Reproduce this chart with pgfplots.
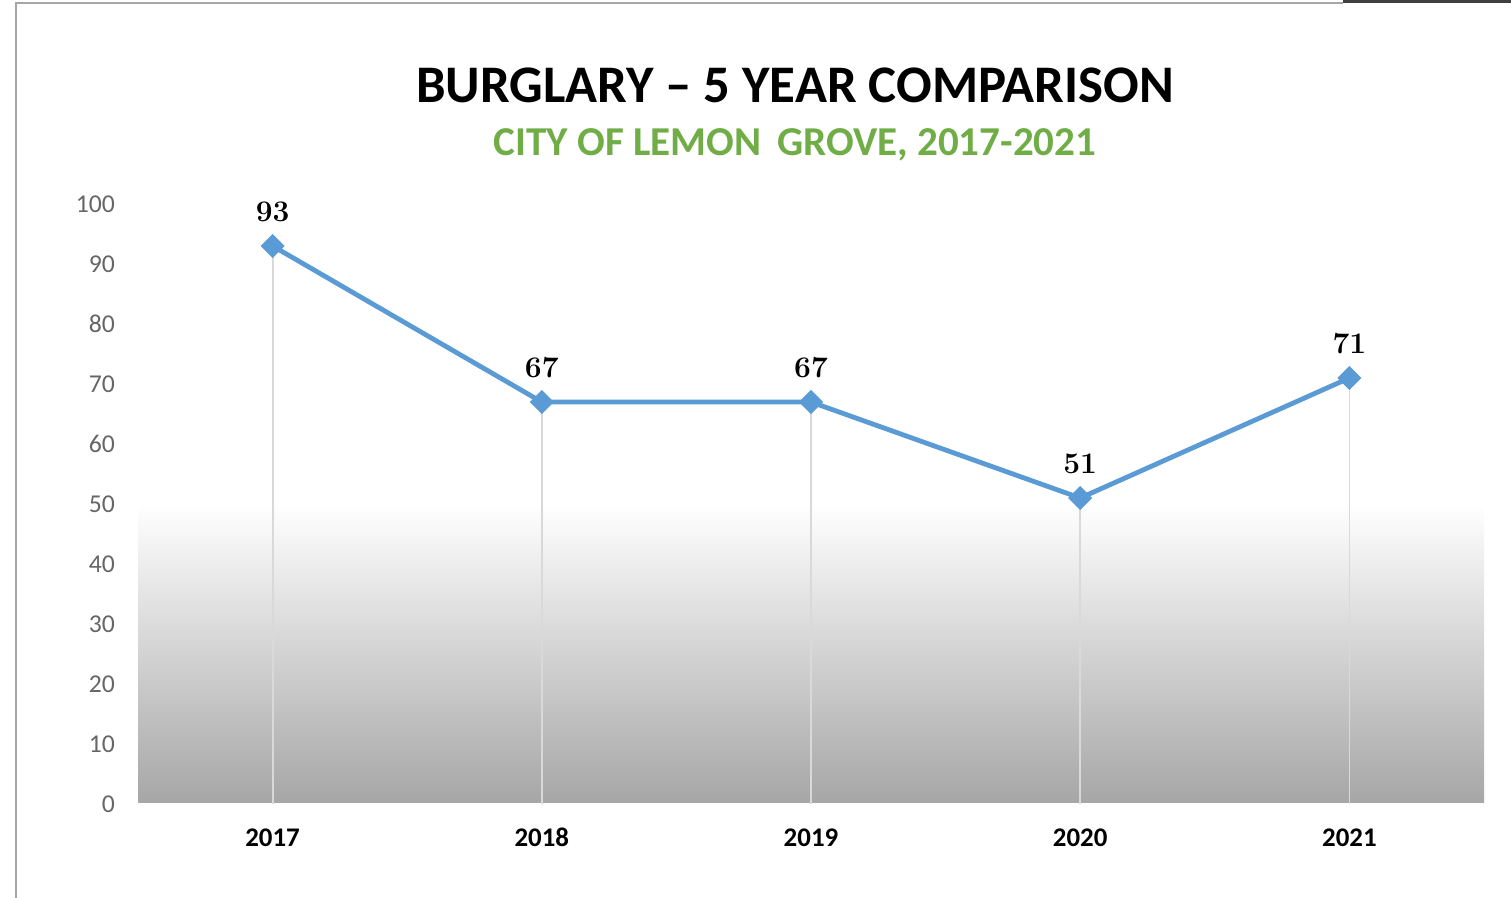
\documentclass[border=0pt]{standalone}
\usepackage{pgfplots}
\pgfplotsset{compat=1.18}
\usepackage{fontspec}
\newfontfamily\carlito[Ligatures=TeX]{Carlito}

\definecolor{lineblue}{HTML}{5B9BD5}
\definecolor{subgreen}{HTML}{70AD47}
\definecolor{ticktext}{HTML}{666666}
\definecolor{floorgray}{HTML}{A6A6A6}
\definecolor{dropgray}{HTML}{D9D9D9}

\begin{document}
\begin{tikzpicture}
% canvas, 1 px of the reference = 0.5bp
\useasboundingbox (-69bp,-47bp) rectangle (686.5bp,402bp);

% frame
\draw[floorgray, line width=1.2bp] (-61bp,-47bp) -- (-61bp,400.5bp) -- (602.5bp,400.5bp);
\draw[black!75, line width=1.2bp] (602.5bp,401.3bp) -- (686.5bp,401.3bp);

\begin{axis}[
  scale only axis,
  width=673bp, height=300bp,
  xmin=-0.5, xmax=4.5,
  ymin=0, ymax=100,
  xtick={0,1,2,3,4},
  xticklabels={2017,2018,2019,2020,2021},
  ytick={0,10,20,30,40,50,60,70,80,90,100},
  axis line style={draw=none},
  major tick length=0pt,
  /pgf/number format/assume math mode=true,
  yticklabel style={font=\carlito\fontsize{12.9}{15}\selectfont, text=ticktext, xshift=-8bp},
  xticklabel style={font=\carlito\bfseries\fontsize{13.5}{16}\selectfont, text=black,
    anchor=base, yshift=-21.5bp},
  clip=false,
]

% gradient floor
\fill[top color=white, bottom color=floorgray, draw=none]
  (axis cs:-0.5,0) rectangle (axis cs:4.5,50);
\draw[white, line width=1bp] (axis cs:-0.5,0) -- (axis cs:4.5,0);

% drop lines
\addplot[ycomb, draw=dropgray, line width=0.9bp, mark=none]
  coordinates {(0,93) (1,67) (2,67) (3,51) (4,71)};

% burglary counts
\addplot[
  color=lineblue, line width=2.4bp,
  mark=square*, mark size=4bp,
  mark options={rotate=45, fill=lineblue, draw=lineblue, line width=0.5bp},
  nodes near coords,
  point meta=explicit symbolic,
  every node near coord/.append style={
    font=\bfseries\fontsize{15}{17}\selectfont, text=black, yshift=8.5bp},
] coordinates {
  (0,93) [93]
  (1,67) [67]
  (2,67) [67]
  (3,51) [51]
  (4,71) [71]
};
\end{axis}

\node[font=\carlito\bfseries\fontsize{26.5}{31}\selectfont] at (328.5bp,359.5bp)
  {BURGLARY – 5 YEAR COMPARISON};
\node[font=\carlito\bfseries\fontsize{20.6}{24}\selectfont, text=subgreen] at (328.5bp,329.5bp)
  {CITY OF LEMON\, GROVE, 2017-2021};
\end{tikzpicture}
\end{document}
